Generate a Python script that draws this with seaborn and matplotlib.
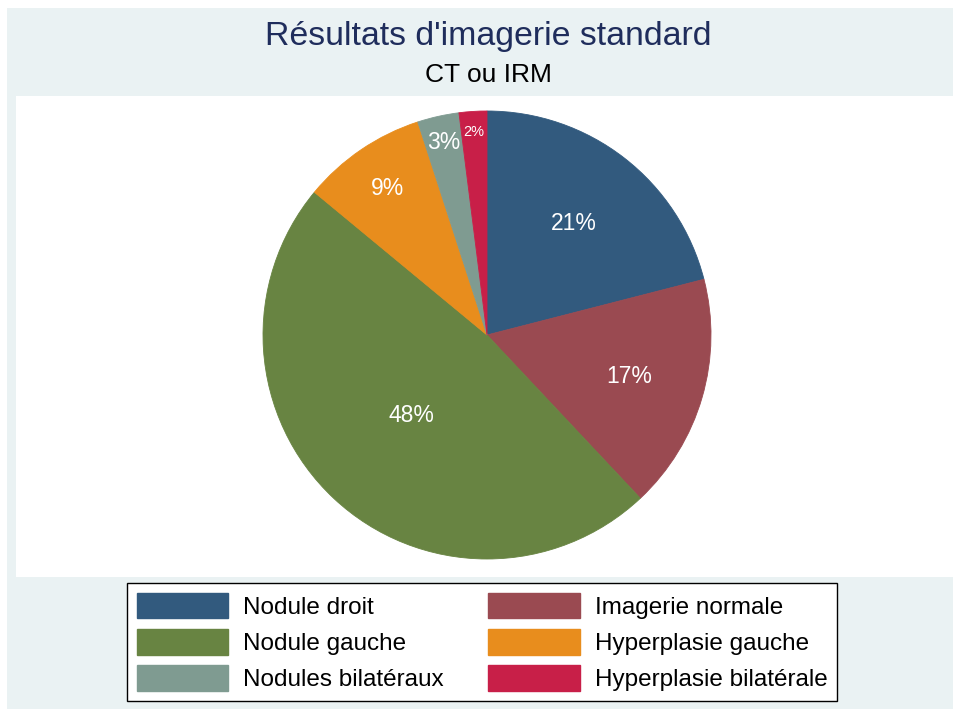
import numpy as np
import matplotlib
matplotlib.use("Agg")
import matplotlib.pyplot as plt
from matplotlib.patches import Rectangle, Patch
import seaborn as sns

# ---- data ----
categories = ["Nodule droit", "Imagerie normale", "Nodule gauche",
              "Hyperplasie gauche", "Nodules bilatéraux", "Hyperplasie bilatérale"]
percents = [21, 17, 48, 9, 3, 2]
title = "Résultats d'imagerie standard"
subtitle = "CT ou IRM"

# ---- style ----
colors = ["#325A7E", "#9A4A51", "#688442", "#E88D1D", "#7F9B91", "#C81F48"]
label_radius = [0.63, 0.66, 0.49, 0.79, 0.88, 0.91]
label_size = [16.5, 16.5, 16.5, 16.5, 16.5, 10.5]

sns.set_theme(style="white")
plt.rcParams["font.family"] = ["Liberation Sans", "DejaVu Sans"]
palette = sns.color_palette(colors)

W, H = 954, 709
fig = plt.figure(figsize=(W / 100, H / 100), dpi=100)
fig.patch.set_facecolor("white")

def px(x0, y0, x1, y1):
    return (x0 / W, 1 - y1 / H, (x1 - x0) / W, (y1 - y0) / H)

# outer light band and inner white plot region
l, b, w, h = px(7, 8, 954, 709)
fig.patches.append(Rectangle((l, b), w, h, transform=fig.transFigure,
                             facecolor="#EAF2F3", edgecolor="none", zorder=-20))
l, b, w, h = px(16, 96, 954, 577)
fig.patches.append(Rectangle((l, b), w, h, transform=fig.transFigure,
                             facecolor="white", edgecolor="none", zorder=-10))

cx, cy, r = 487, 335, 224
ax = fig.add_axes(px(cx - r, cy - r, cx + r, cy + r))
ax.set_zorder(5)
ax.set_facecolor("none")
wedges, _ = ax.pie(percents, colors=palette, startangle=90, counterclock=False,
                   radius=1.0, wedgeprops=dict(linewidth=0.6, edgecolor="none"))
for wdg in wedges:
    wdg.set_edgecolor(wdg.get_facecolor())
ax.set_xlim(-1, 1)
ax.set_ylim(-1, 1)
ax.set_aspect("equal")
ax.axis("off")

for wdg, p, rr, fs in zip(wedges, percents, label_radius, label_size):
    mid = np.deg2rad((wdg.theta1 + wdg.theta2) / 2)
    ax.text(rr * np.cos(mid), rr * np.sin(mid), f"{p}%", ha="center", va="center",
            color="white", fontsize=fs)

fig.text(488 / W, 1 - 36 / H, title, ha="center", va="center",
         fontsize=24.4, color="#1F2D5C")
fig.text(488 / W, 1 - 75 / H, subtitle, ha="center", va="center",
         fontsize=19, color="black")

# legend laid out row-wise (two per row), matplotlib fills columns first
ncol = 2
nrow = int(np.ceil(len(categories) / ncol))
col_major = [categories[rw * ncol + c] for c in range(ncol) for rw in range(nrow)]
handles = [Patch(facecolor=palette[categories.index(c)],
                 edgecolor=palette[categories.index(c)]) for c in col_major]
leg = fig.legend(handles, col_major, ncol=ncol, loc="center",
                 bbox_to_anchor=(482 / W, 1 - 642 / H), fontsize=17.5,
                 frameon=True, fancybox=False, handlelength=3.75, handleheight=1.25,
                 handletextpad=0.62, columnspacing=1.85, labelspacing=0.42,
                 borderpad=0.4, borderaxespad=0, framealpha=1)
leg.set_zorder(6)
leg.get_frame().set_edgecolor("black")
leg.get_frame().set_facecolor("white")
leg.get_frame().set_linewidth(1.0)
for t in leg.get_texts():
    t.set_color("black")

fig.savefig("out.png", dpi=100, facecolor=fig.get_facecolor())
